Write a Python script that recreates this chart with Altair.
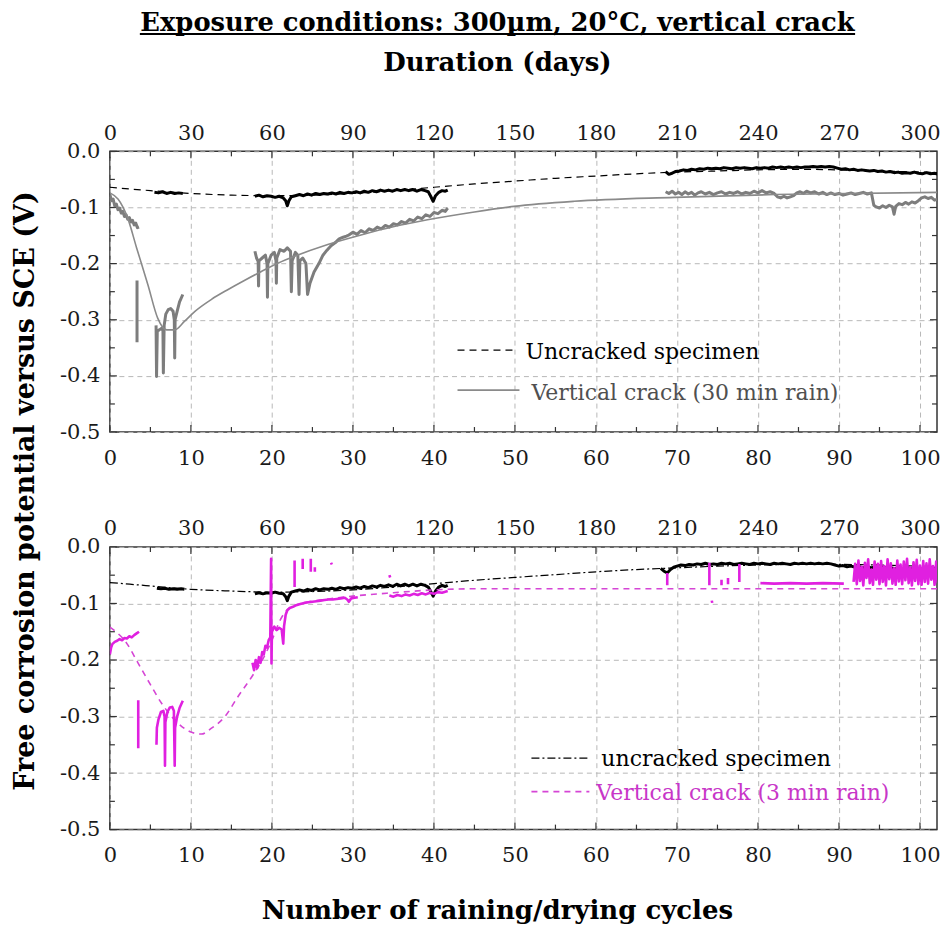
import altair as alt
import pandas as pd

# ---------------- data (cycle, potential V) ----------------
X_MAX = 102.1
CYCLE_TICKS = [0, 10, 20, 30, 40, 50, 60, 70, 80, 90, 100]
MINOR_CYCLE_TICKS = [5, 15, 25, 35, 45, 55, 65, 75, 85, 95]
V_TICKS = [-0.5, -0.4, -0.3, -0.2, -0.1, 0.0]
MINOR_V_TICKS = [-0.45, -0.35, -0.25, -0.15, -0.05]

# Top panel: uncracked specimen
UNC_FIT_TOP = [(0, -0.064), (5, -0.070), (10, -0.075), (15, -0.078), (20, -0.079), (25, -0.078),
               (30, -0.075), (35, -0.070), (40, -0.064), (45, -0.058), (50, -0.053), (55, -0.048),
               (60, -0.044), (65, -0.040), (70, -0.037), (75, -0.035), (80, -0.033), (85, -0.032),
               (90, -0.033), (95, -0.035), (100, -0.037), (102.8, -0.038)]
UNC_DATA_TOP = [
    [(5.5, -0.073), (6.0, -0.074), (6.5, -0.072), (7.0, -0.075), (7.5, -0.073), (8.0, -0.075),
     (8.5, -0.074), (9.0, -0.075)],
    [(17.9, -0.080), (18.4, -0.078), (18.9, -0.081), (19.4, -0.079), (19.9, -0.080), (20.4, -0.082),
     (20.9, -0.080), (21.4, -0.083), (21.7, -0.088), (21.9, -0.097), (22.1, -0.088), (22.4, -0.081),
     (22.9, -0.079), (23.4, -0.077), (23.9, -0.079), (24.4, -0.076), (24.9, -0.078), (25.4, -0.075),
     (25.9, -0.077), (26.4, -0.075), (26.9, -0.076), (27.4, -0.074), (27.9, -0.076), (28.4, -0.073),
     (28.9, -0.075), (29.4, -0.073), (29.9, -0.074), (30.4, -0.072), (30.9, -0.074), (31.4, -0.071),
     (31.9, -0.073), (32.4, -0.070), (32.9, -0.072), (33.4, -0.069), (33.9, -0.071), (34.4, -0.069),
     (34.9, -0.071), (35.4, -0.068), (35.9, -0.070), (36.4, -0.068), (36.9, -0.070), (37.4, -0.068),
     (37.9, -0.071), (38.4, -0.068), (38.9, -0.070), (39.3, -0.072), (39.6, -0.080), (39.9, -0.089),
     (40.2, -0.079), (40.6, -0.073), (41.0, -0.070), (41.4, -0.071), (41.7, -0.069)],
    [(68.6, -0.036), (69.0, -0.041), (69.4, -0.039), (69.8, -0.036), (70.3, -0.035), (70.8, -0.033),
     (71.3, -0.034), (71.8, -0.032), (72.3, -0.033), (72.8, -0.031), (73.3, -0.032), (73.8, -0.030),
     (74.3, -0.031), (74.8, -0.030), (75.3, -0.031), (75.8, -0.029), (76.3, -0.030), (76.8, -0.031),
     (77.3, -0.029), (77.8, -0.030), (78.3, -0.029), (78.8, -0.030), (79.3, -0.031), (79.8, -0.029),
     (80.3, -0.030), (80.8, -0.029), (81.3, -0.030), (81.8, -0.028), (82.3, -0.029), (82.8, -0.028),
     (83.3, -0.029), (83.8, -0.028), (84.3, -0.029), (84.8, -0.028), (85.3, -0.029), (85.8, -0.028),
     (86.3, -0.028), (86.8, -0.027), (87.3, -0.028), (87.8, -0.027), (88.3, -0.028), (88.8, -0.027),
     (89.3, -0.028), (89.8, -0.030), (90.3, -0.032), (90.8, -0.031), (91.3, -0.033), (91.8, -0.032),
     (92.3, -0.034), (92.8, -0.033), (93.3, -0.034), (93.8, -0.035), (94.3, -0.034), (94.8, -0.036),
     (95.3, -0.035), (95.8, -0.037), (96.3, -0.036), (96.8, -0.038), (97.3, -0.037), (97.8, -0.039),
     (98.3, -0.038), (98.8, -0.039), (99.3, -0.037), (99.8, -0.039), (100.3, -0.040), (100.8, -0.038),
     (101.3, -0.040), (101.8, -0.039), (102.3, -0.041), (102.8, -0.040)],
]

# Top panel: vertical crack, 30 min rain
CRACK_FIT_TOP = [(0, -0.074), (1.0, -0.085), (2.2, -0.119), (3.3, -0.172), (4.7, -0.238), (5.9, -0.297),
                 (7.0, -0.318), (8.0, -0.318), (9.2, -0.303), (10.5, -0.285), (12.5, -0.264),
                 (14.6, -0.246), (16.6, -0.230), (18.7, -0.214), (20.8, -0.199), (22.8, -0.187),
                 (26.9, -0.166), (31.0, -0.149), (35.1, -0.134), (39.2, -0.122), (45.0, -0.108),
                 (49.9, -0.098), (57.3, -0.089), (69.7, -0.082), (82.0, -0.077), (102.8, -0.073)]
CRACK_DATA_TOP = [
    [(0.0, -0.077), (0.2, -0.088), (0.4, -0.085), (0.6, -0.097), (0.8, -0.094), (1.0, -0.104),
     (1.2, -0.101), (1.4, -0.110), (1.6, -0.107), (1.8, -0.116), (2.0, -0.113), (2.2, -0.121),
     (2.4, -0.118), (2.6, -0.126), (2.8, -0.123), (3.0, -0.131), (3.2, -0.128), (3.4, -0.136),
     (3.6, -0.135)],
    [(3.35, -0.230), (3.35, -0.340)],
    [(5.7, -0.310), (5.76, -0.401), (5.85, -0.320), (6.1, -0.318), (6.4, -0.315), (6.55, -0.320),
     (6.6, -0.395), (6.7, -0.310), (6.9, -0.290), (7.2, -0.282), (7.5, -0.280), (7.8, -0.285),
     (7.95, -0.300), (8.0, -0.368), (8.05, -0.300), (8.3, -0.285), (8.6, -0.268), (9.0, -0.255)],
    [(17.9, -0.178), (18.1, -0.190), (18.3, -0.196), (18.35, -0.240), (18.4, -0.195), (18.8, -0.190),
     (19.2, -0.185), (19.4, -0.200), (19.45, -0.260), (19.5, -0.200), (19.9, -0.185), (20.3, -0.180),
     (20.5, -0.195), (20.55, -0.235), (20.6, -0.190), (21.0, -0.175), (21.5, -0.178), (21.9, -0.172),
     (22.3, -0.178), (22.4, -0.250), (22.5, -0.195), (22.9, -0.180), (23.2, -0.185), (23.35, -0.255),
     (23.45, -0.195), (23.8, -0.190), (24.2, -0.200), (24.4, -0.255), (24.7, -0.235), (25.2, -0.215),
     (25.8, -0.200), (26.3, -0.185), (26.8, -0.176), (27.3, -0.168), (27.8, -0.163), (28.3, -0.156),
     (28.8, -0.153), (29.2, -0.151), (29.5, -0.149), (30.0, -0.144), (30.5, -0.148), (31.0, -0.141),
     (31.5, -0.145), (32.0, -0.138), (32.5, -0.141), (33.0, -0.135), (33.5, -0.138), (34.0, -0.132),
     (34.5, -0.135), (35.0, -0.129), (35.5, -0.131), (36.0, -0.125), (36.5, -0.128), (37.0, -0.121),
     (37.5, -0.124), (38.0, -0.117), (38.5, -0.120), (39.0, -0.113), (39.5, -0.116), (40.0, -0.109),
     (40.5, -0.111), (41.0, -0.105), (41.4, -0.107), (41.7, -0.101)],
    [(68.6, -0.072), (69.0, -0.075), (69.4, -0.071), (69.8, -0.076), (70.2, -0.073), (70.6, -0.077),
     (71.0, -0.072), (71.4, -0.076), (71.8, -0.073), (72.2, -0.078), (72.6, -0.074), (73.0, -0.072),
     (73.5, -0.076), (74.0, -0.073), (74.5, -0.077), (75.0, -0.074), (75.5, -0.072), (76.0, -0.076),
     (76.5, -0.073), (77.0, -0.075), (77.5, -0.072), (78.0, -0.076), (78.5, -0.073), (79.0, -0.075),
     (79.5, -0.071), (80.0, -0.074), (80.5, -0.070), (81.0, -0.074), (81.5, -0.072), (82.0, -0.075),
     (82.4, -0.081), (82.8, -0.083), (83.2, -0.080), (83.6, -0.083), (84.0, -0.081), (84.4, -0.079),
     (84.8, -0.074), (85.2, -0.072), (85.6, -0.075), (86.0, -0.071), (86.5, -0.074), (87.0, -0.072),
     (87.5, -0.076), (88.0, -0.073), (88.5, -0.077), (89.0, -0.074), (89.5, -0.077), (90.0, -0.075),
     (90.5, -0.078), (91.0, -0.076), (91.5, -0.074), (92.0, -0.077), (92.5, -0.075), (93.0, -0.073),
     (93.5, -0.076), (94.0, -0.074), (94.3, -0.096), (94.6, -0.099), (95.0, -0.101), (95.4, -0.097),
     (95.8, -0.100), (96.2, -0.096), (96.6, -0.099), (96.8, -0.112), (97.0, -0.098), (97.4, -0.093),
     (97.8, -0.095), (98.2, -0.091), (98.6, -0.094), (99.0, -0.090), (99.4, -0.092), (99.8, -0.088),
     (100.2, -0.083), (100.6, -0.081), (101.0, -0.084), (101.4, -0.082), (101.8, -0.087),
     (102.2, -0.085), (102.8, -0.088)],
]

# Bottom panel: uncracked specimen
UNC_FIT_BOT = [(0, -0.063), (5, -0.069), (10, -0.075), (15, -0.078), (20, -0.080), (25, -0.079),
               (30, -0.076), (35, -0.071), (40, -0.065), (45, -0.059), (50, -0.054), (55, -0.049),
               (60, -0.044), (65, -0.040), (70, -0.037), (75, -0.034), (80, -0.032), (85, -0.031),
               (90, -0.031), (95, -0.032), (100, -0.034), (102.8, -0.035)]
UNC_DATA_BOT = [
    [(5.8, -0.073), (6.3, -0.074), (6.8, -0.073), (7.3, -0.075), (7.8, -0.074), (8.3, -0.075),
     (8.8, -0.074), (9.2, -0.075)],
    [(17.9, -0.083), (18.4, -0.081), (18.9, -0.083), (19.4, -0.081), (19.9, -0.082), (20.4, -0.080),
     (20.9, -0.082), (21.4, -0.083), (21.7, -0.088), (21.9, -0.095), (22.1, -0.087), (22.4, -0.080),
     (22.9, -0.078), (23.4, -0.076), (23.9, -0.078), (24.4, -0.075), (24.9, -0.077), (25.4, -0.074),
     (25.9, -0.076), (26.4, -0.074), (26.9, -0.075), (27.4, -0.073), (27.9, -0.075), (28.4, -0.072),
     (28.9, -0.074), (29.4, -0.072), (29.9, -0.073), (30.4, -0.071), (30.9, -0.073), (31.4, -0.070),
     (31.9, -0.072), (32.4, -0.069), (32.9, -0.071), (33.4, -0.068), (33.9, -0.070), (34.4, -0.067),
     (34.9, -0.070), (35.4, -0.066), (35.9, -0.069), (36.4, -0.066), (36.9, -0.069), (37.4, -0.066),
     (37.9, -0.069), (38.4, -0.066), (38.9, -0.068), (39.3, -0.071), (39.6, -0.079), (39.9, -0.087),
     (40.2, -0.078), (40.6, -0.071), (41.0, -0.068), (41.4, -0.070), (41.7, -0.068)],
    [(68.0, -0.038), (68.4, -0.043), (68.8, -0.046), (69.2, -0.040), (69.6, -0.036), (70.0, -0.034),
     (70.5, -0.032), (71.0, -0.033), (71.5, -0.031), (72.0, -0.032), (72.5, -0.030), (73.0, -0.031),
     (73.5, -0.029), (74.0, -0.031), (74.5, -0.030), (75.0, -0.031), (75.5, -0.029), (76.0, -0.030),
     (76.5, -0.029), (77.0, -0.031), (77.5, -0.030), (78.0, -0.029), (78.5, -0.030), (79.0, -0.031),
     (79.5, -0.029), (80.0, -0.030), (80.5, -0.029), (81.0, -0.030), (81.5, -0.031), (82.0, -0.029),
     (82.5, -0.030), (83.0, -0.029), (83.5, -0.030), (84.0, -0.031), (84.5, -0.029), (85.0, -0.030),
     (85.5, -0.029), (86.0, -0.030), (86.5, -0.029), (87.0, -0.030), (87.5, -0.029), (88.0, -0.030),
     (88.5, -0.029), (89.0, -0.030), (89.5, -0.032), (90.0, -0.034), (90.5, -0.033), (91.0, -0.035),
     (91.5, -0.034), (92.0, -0.036), (92.5, -0.035), (93.0, -0.037), (93.5, -0.035), (94.0, -0.037),
     (94.5, -0.036), (95.0, -0.038), (95.5, -0.036), (96.0, -0.038), (96.5, -0.037), (97.0, -0.039),
     (97.5, -0.037), (98.0, -0.039), (98.5, -0.037), (99.0, -0.039), (99.5, -0.038), (100.0, -0.040),
     (100.5, -0.038), (101.0, -0.039), (101.5, -0.037), (102.0, -0.039), (102.8, -0.038)],
]

# Bottom panel: vertical crack, 3 min rain
CRACK_FIT_BOT = [(0.0, -0.142), (2.1, -0.171), (3.5, -0.206), (4.9, -0.241), (6.4, -0.277),
                 (8.0, -0.306), (10.1, -0.328), (11.3, -0.331), (12.5, -0.321), (14.2, -0.300),
                 (15.8, -0.265), (17.5, -0.230), (18.7, -0.203), (20.0, -0.165), (21.0, -0.130),
                 (22.0, -0.110), (24.0, -0.099), (27.0, -0.092), (30.0, -0.087), (35.0, -0.081),
                 (40.0, -0.076), (45.0, -0.074), (102.8, -0.074)]
CRACK_DATA_BOT = [
    [(0.0, -0.190), (0.15, -0.178), (0.3, -0.172), (0.6, -0.168), (0.9, -0.166), (1.2, -0.163),
     (1.5, -0.165), (1.8, -0.161), (2.1, -0.162), (2.4, -0.158), (2.7, -0.160), (3.0, -0.156),
     (3.3, -0.153), (3.6, -0.150)],
    [(3.5, -0.271), (3.5, -0.356)],
    [(5.75, -0.350), (5.8, -0.320), (6.0, -0.305), (6.3, -0.292), (6.6, -0.290), (6.75, -0.300),
     (6.8, -0.387), (6.85, -0.310), (7.1, -0.292), (7.4, -0.284), (7.7, -0.283), (7.9, -0.290),
     (8.0, -0.387), (8.05, -0.320), (8.3, -0.300), (8.6, -0.285), (9.0, -0.272)],
    [(17.6, -0.205), (17.8, -0.218), (18.0, -0.200), (18.2, -0.214), (18.4, -0.195), (18.6, -0.205),
     (18.8, -0.186), (19.0, -0.190), (19.2, -0.175), (19.4, -0.178), (19.6, -0.165), (19.8, -0.160),
     (19.9, -0.021), (19.95, -0.206), (20.0, -0.150), (20.3, -0.141), (20.6, -0.147), (20.9, -0.143),
     (21.2, -0.146), (21.4, -0.171), (21.5, -0.140), (21.7, -0.120), (21.9, -0.112), (22.2, -0.108),
     (22.6, -0.106), (23.0, -0.103), (23.5, -0.101), (24.0, -0.099), (24.5, -0.098), (25.0, -0.097),
     (25.5, -0.096), (26.0, -0.095), (26.5, -0.094), (27.0, -0.093), (27.5, -0.093), (28.0, -0.092),
     (28.5, -0.091), (29.0, -0.090), (29.3, -0.093), (29.5, -0.097), (29.8, -0.091), (30.2, -0.090),
     (30.6, -0.089)],
    [(22.8, -0.024), (22.8, -0.071)],
    [(23.8, -0.021), (23.8, -0.039)],
    [(24.8, -0.021), (24.8, -0.044)],
    [(25.3, -0.036), (25.3, -0.044)],
    [(27.3, -0.028), (27.4, -0.031)],
    [(34.5, -0.050), (34.6, -0.054)],
    [(34.5, -0.086), (35.0, -0.088), (35.5, -0.085), (36.0, -0.087), (36.5, -0.084), (37.0, -0.086),
     (37.5, -0.083), (38.0, -0.085), (38.5, -0.082), (39.0, -0.084), (39.5, -0.081), (40.0, -0.083),
     (40.5, -0.080), (41.0, -0.081), (41.7, -0.078)],
    [(68.8, -0.046), (68.8, -0.068)],
    [(74.0, -0.028), (74.0, -0.068)],
    [(74.3, -0.095), (74.35, -0.099)],
    [(75.5, -0.058), (75.5, -0.068)],
    [(76.3, -0.055), (76.3, -0.066)],
    [(77.7, -0.030), (77.7, -0.062)],
    [(80.3, -0.064), (82.0, -0.065), (84.0, -0.064), (86.0, -0.065), (88.0, -0.064), (90.6, -0.065)],
    [(91.8, -0.062), (92.0, -0.030), (92.2, -0.066), (92.4, -0.024), (92.6, -0.060), (92.8, -0.035),
     (93.0, -0.068), (93.2, -0.028), (93.4, -0.055), (93.6, -0.022), (93.8, -0.064), (94.0, -0.040),
     (94.2, -0.067), (94.4, -0.026), (94.6, -0.058), (94.8, -0.030), (95.0, -0.066), (95.2, -0.025),
     (95.4, -0.062), (95.6, -0.034), (95.8, -0.068), (96.0, -0.022), (96.2, -0.057), (96.4, -0.029),
     (96.6, -0.065), (96.8, -0.038), (97.0, -0.067), (97.2, -0.024), (97.4, -0.061), (97.6, -0.031),
     (97.8, -0.066), (98.0, -0.026), (98.2, -0.059), (98.4, -0.021), (98.6, -0.064), (98.8, -0.036),
     (99.0, -0.068), (99.2, -0.027), (99.4, -0.060), (99.6, -0.023), (99.8, -0.066), (100.0, -0.033),
     (100.2, -0.067), (100.4, -0.025), (100.6, -0.062), (100.8, -0.029), (101.0, -0.065),
     (101.2, -0.022), (101.4, -0.058), (101.6, -0.034), (101.8, -0.067), (102.0, -0.026),
     (102.2, -0.063), (102.4, -0.030), (102.8, -0.060)],
]

TITLE = "Exposure conditions: 300µm, 20°C, vertical crack"
TOP_AXIS_TITLE = "Duration (days)"
BOTTOM_AXIS_TITLE = "Number of raining/drying cycles"
Y_TITLE = "Free corrosion potential versus SCE (V)"
LEG_TOP = ["Uncracked specimen", "Vertical crack (30 min rain)"]
LEG_BOT = ["uncracked specimen", "Vertical crack (3 min rain)"]

# ---------------- helpers ----------------
W = 828
H1 = 281
H2 = 283
SERIF = "DejaVu Serif"
GRAY = "#7d7d7d"
MAGENTA = "#e020e0"

ONE = pd.DataFrame({"k": [0]})
xs = alt.Scale(domain=[0, X_MAX], nice=False, zero=False)
ys = alt.Scale(domain=[-0.5, 0.0], nice=False, zero=False)

y_axis = alt.Axis(values=V_TICKS, title=None, grid=True, ticks=False, domain=False,
                  labelPadding=10, labelFlush=False, labelOverlap=False,
                  labelExpr="replace(format(datum.value, '.1f'), '\u2212', '-')")


def Y():
    return alt.Y("v:Q", scale=ys, axis=y_axis)


def XN():
    return alt.X("cycle:Q", scale=xs, axis=None)


def to_df(segments, name):
    rows = []
    for si, seg in enumerate(segments):
        for oi, (c, v) in enumerate(seg):
            rows.append({"cycle": c, "v": v, "seg": f"{name}{si}", "ord": oi})
    return pd.DataFrame(rows)


def line(segments, name, color, width, dash=None, interp=None):
    kw = dict(color=color, strokeWidth=width, clip=True, strokeJoin="round")
    if dash:
        kw["strokeDash"] = dash
    if interp:
        kw["interpolate"] = interp
    return alt.Chart(to_df(segments, name)).mark_line(**kw).encode(
        x=XN(), y=Y(), detail="seg:N", order="ord:Q")


def text(t, x, y, size, color="black", bold=False, align="left", baseline="middle", angle=None):
    kw = dict(text=t, font=SERIF, fontSize=size, color=color, align=align, baseline=baseline)
    if bold:
        kw["fontWeight"] = "bold"
    if angle is not None:
        kw["angle"] = angle
    return alt.Chart(ONE).mark_text(**kw).encode(x=alt.value(x), y=alt.value(y))


def hrule(x1, x2, y, color, width, dash=None):
    kw = dict(color=color, strokeWidth=width)
    if dash:
        kw["strokeDash"] = dash
    return alt.Chart(ONE).mark_rule(**kw).encode(x=alt.value(x1), x2=alt.value(x2), y=alt.value(y))


def frame_layers(H):
    corners = pd.DataFrame({"cycle": [0, 50], "v": [-0.5, 0.0]})
    bottom = alt.Chart(corners).mark_point(opacity=0, size=0).encode(
        x=alt.X("cycle:Q", scale=xs, axis=alt.Axis(
            values=CYCLE_TICKS, orient="bottom", title=None, grid=True, ticks=False, domain=False,
            labelPadding=15, labelFlush=False, labelOverlap=False, format="d")),
        y=Y())
    top = alt.Chart(corners).mark_point(opacity=0, size=0).encode(
        x=alt.X("cycle:Q", scale=xs, axis=alt.Axis(
            values=CYCLE_TICKS, orient="top", title=None, grid=False, ticks=False, domain=False,
            labelPadding=8, labelFlush=False, labelOverlap=False,
            labelExpr="format(datum.value * 3, 'd')")),
        y=Y())
    layers = [bottom, top]
    tk = dict(color="#333333", strokeWidth=1.2)
    for vals, L in [(CYCLE_TICKS, 7), (MINOR_CYCLE_TICKS, 5)]:
        d = pd.DataFrame({"cycle": vals})
        layers.append(alt.Chart(d).mark_rule(**tk).encode(x=XN(), y=alt.value(0), y2=alt.value(L)))
        layers.append(alt.Chart(d).mark_rule(**tk).encode(x=XN(), y=alt.value(H), y2=alt.value(H - L)))
    for vals, L in [(V_TICKS, 7), (MINOR_V_TICKS, 5)]:
        d = pd.DataFrame({"v": vals})
        layers.append(alt.Chart(d).mark_rule(**tk).encode(y=Y(), x=alt.value(0), x2=alt.value(L)))
        layers.append(alt.Chart(d).mark_rule(**tk).encode(y=Y(), x=alt.value(W), x2=alt.value(W - L)))
    return layers


# ---------------- top panel ----------------
top_layers = frame_layers(H1) + [
    line(CRACK_DATA_TOP, "cd", GRAY, 3.0),
    line([CRACK_FIT_TOP], "cf", "#8a8a8a", 1.6, interp="monotone"),
    line([UNC_FIT_TOP], "uf", "black", 1.2, dash=[7, 5], interp="monotone"),
    line(UNC_DATA_TOP, "ud", "black", 3.0),
    # titles
    text(TITLE, 388, -120.5, 25.8, bold=True, align="center", baseline="alphabetic"),
    hrule(30, 746, -117.5, "black", 2),
    text(TOP_AXIS_TITLE, 388, -80.5, 26, bold=True, align="center", baseline="alphabetic"),
    text(Y_TITLE, -84, 340, 27, bold=True, align="center", baseline="middle", angle=270),
    # legend
    hrule(348, 405, 199, "black", 1.2, dash=[7, 5]),
    text(LEG_TOP[0], 416, 201, 22, color="black"),
    hrule(348, 410, 239, "#8a8a8a", 1.6),
    text(LEG_TOP[1], 422, 242, 22, color="#505050"),
]
top_panel = alt.layer(*top_layers).resolve_axis(x="independent").properties(width=W, height=H1)

# ---------------- bottom panel ----------------
bot_layers = frame_layers(H2) + [
    line([UNC_FIT_BOT], "uf", "black", 1.2, dash=[8, 3, 2, 3], interp="monotone"),
    line(UNC_DATA_BOT, "ud", "black", 3.0),
    line([CRACK_FIT_BOT], "cf", "#d545d5", 1.6, dash=[6, 5], interp="monotone"),
    line(CRACK_DATA_BOT, "cd", MAGENTA, 2.6),
    text(BOTTOM_AXIS_TITLE, 388, 372, 26, bold=True, align="center", baseline="alphabetic"),
    # legend
    hrule(422, 478, 211.5, "black", 1.2, dash=[8, 3, 2, 3]),
    text(LEG_BOT[0], 492, 212.5, 22, color="black"),
    hrule(422, 480, 245, "#d545d5", 1.6, dash=[6, 5]),
    text(LEG_BOT[1], 487, 246, 22, color="#c836c8"),
]
bot_panel = alt.layer(*bot_layers).resolve_axis(x="independent").properties(width=W, height=H2)

chart = alt.vconcat(top_panel, bot_panel, spacing=115, bounds="flush").properties(
    padding={"left": 3, "right": 0, "top": 0, "bottom": 0},
    background="white",
).configure_view(
    stroke="#333333", strokeWidth=1.5
).configure_axis(
    labelFont=SERIF, labelFontSize=21, labelColor="#1a1a1a",
    gridColor="#b8b8b8", gridDash=[5, 4], gridWidth=1,
)

chart.save("out.html", embed_options={"renderer": "svg", "actions": False})
